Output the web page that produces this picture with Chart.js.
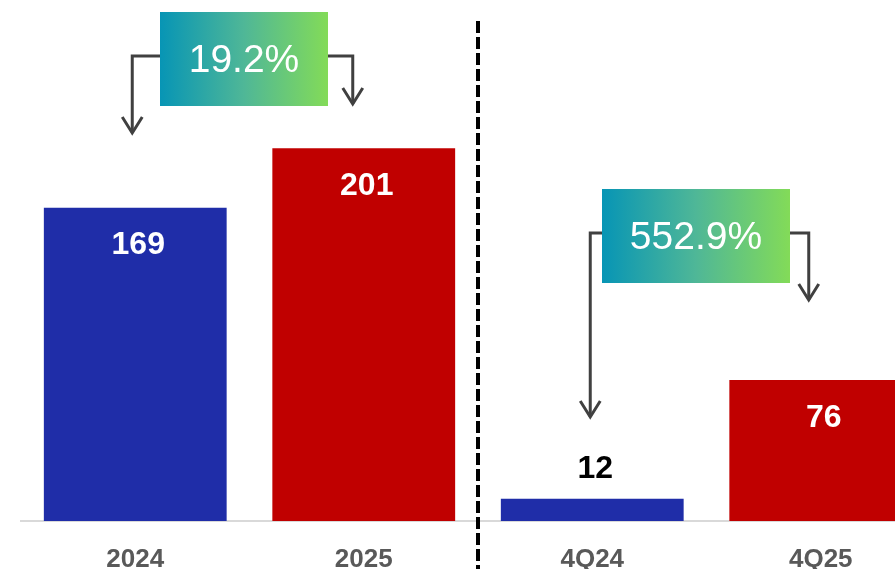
<!DOCTYPE html>
<html lang="en">
<head>
  <meta charset="UTF-8">
  <title>Annual and Quarterly Comparison</title>
  <script src="https://cdn.jsdelivr.net/npm/chart.js"></script>
  <style>
    body {
      margin: 0;
      background: #ffffff;
      overflow: hidden;
      width: 895px;
      height: 569px;
    }
    /* canvas is a bit wider than the page so the last bar runs off the edge */
    #barChart {
      display: block;
    }
  </style>
</head>
<body>
  <canvas id="barChart" width="940" height="569"></canvas>

  <script>
    // chart data
    const categories = ['2024', '2025', '4Q24', '4Q25'];
    const values = [169, 201, 12, 76];
    const changeLabels = ['19.2%', '552.9%'];

    const BLUE = '#1f2da8';
    const RED = '#c00000';
    const barColors = [BLUE, RED, BLUE, RED];

    // callout boxes: which bars they link, box geometry and arrow tips
    const callouts = [
      { text: changeLabels[0], from: 0, to: 1, box: { x: 160, y: 12, w: 168, h: 94 },
        leftDx: -3, rightDx: -11, leftTip: 133, rightTip: 104 },
      { text: changeLabels[1], from: 2, to: 3, box: { x: 602, y: 189, w: 188, h: 94 },
        leftDx: -2, rightDx: -12, leftTip: 417, rightTip: 300 }
    ];

    // value labels: white inside tall bars, black above short ones
    const valueLabels = {
      id: 'valueLabels',
      afterDatasetsDraw(chart) {
        const { ctx } = chart;
        const meta = chart.getDatasetMeta(0);
        ctx.save();
        ctx.font = 'bold 32px "Liberation Sans", Arial, sans-serif';
        ctx.textAlign = 'center';
        ctx.textBaseline = 'middle';
        meta.data.forEach((bar, i) => {
          const h = bar.base - bar.y;
          if (h > 60) {
            ctx.fillStyle = '#ffffff';
            ctx.fillText(values[i], bar.x + 3, bar.y + 38);
          } else {
            ctx.fillStyle = '#000000';
            ctx.fillText(values[i], bar.x + 3, bar.y - 30);
          }
        });
        ctx.restore();
      }
    };

    // dashed separator between the annual and quarterly groups
    const separator = {
      id: 'separator',
      afterDraw(chart) {
        const { ctx } = chart;
        const x = chart.scales.x;
        const sx = (x.getPixelForValue(1) + x.getPixelForValue(2)) / 2;
        ctx.save();
        ctx.strokeStyle = '#000000';
        ctx.lineWidth = 4;
        ctx.setLineDash([12, 4]);
        ctx.beginPath();
        ctx.moveTo(sx, 21);
        ctx.lineTo(sx, chart.height);
        ctx.stroke();
        ctx.restore();
      }
    };

    function arrowDown(ctx, x, tip) {
      ctx.beginPath();
      ctx.moveTo(x - 10, tip - 16);
      ctx.lineTo(x, tip);
      ctx.lineTo(x + 10, tip - 16);
      ctx.stroke();
    }

    // growth callouts with gradient boxes and elbow arrows
    const growthCallouts = {
      id: 'growthCallouts',
      afterDraw(chart) {
        const { ctx } = chart;
        const meta = chart.getDatasetMeta(0);
        callouts.forEach(c => {
          const b = c.box;
          const midY = b.y + b.h / 2 - 3;
          const lx = meta.data[c.from].x + c.leftDx;
          const rx = meta.data[c.to].x + c.rightDx;

          ctx.save();
          ctx.strokeStyle = '#404040';
          ctx.lineWidth = 3;
          ctx.lineJoin = 'miter';
          ctx.beginPath();
          ctx.moveTo(b.x, midY);
          ctx.lineTo(lx, midY);
          ctx.lineTo(lx, c.leftTip);
          ctx.stroke();
          arrowDown(ctx, lx, c.leftTip);

          ctx.beginPath();
          ctx.moveTo(b.x + b.w, midY);
          ctx.lineTo(rx, midY);
          ctx.lineTo(rx, c.rightTip);
          ctx.stroke();
          arrowDown(ctx, rx, c.rightTip);

          const grad = ctx.createLinearGradient(b.x, 0, b.x + b.w, 0);
          grad.addColorStop(0, '#0795b5');
          grad.addColorStop(0.5, '#4fb797');
          grad.addColorStop(1, '#83db58');
          ctx.fillStyle = grad;
          ctx.fillRect(b.x, b.y, b.w, b.h);

          ctx.fillStyle = '#ffffff';
          ctx.font = '39px "Liberation Sans", Arial, sans-serif';
          ctx.textAlign = 'center';
          ctx.textBaseline = 'middle';
          ctx.fillText(c.text, b.x + b.w / 2, b.y + b.h / 2 + 2);
          ctx.restore();
        });
      }
    };

    const ctx = document.getElementById('barChart').getContext('2d');
    new Chart(ctx, {
      type: 'bar',
      data: {
        labels: categories,
        datasets: [{
          data: values,
          backgroundColor: barColors,
          borderWidth: 0,
          barPercentage: 0.8,
          categoryPercentage: 1.0
        }]
      },
      options: {
        responsive: false,
        animation: false,
        layout: {
          padding: { left: 21, right: 5, top: 0, bottom: 0 }
        },
        plugins: {
          legend: { display: false },
          tooltip: { enabled: false }
        },
        scales: {
          x: {
            grid: { drawOnChartArea: false, drawTicks: false },
            border: { display: true, color: '#d9d9d9', width: 2 },
            ticks: {
              color: '#595959',
              padding: 23,
              font: { family: '"Liberation Sans", Arial, sans-serif', size: 26, weight: 'bold' }
            },
            afterFit(scale) {
              scale.height = 48;
            }
          },
          y: {
            display: false,
            min: 0,
            max: 281
          }
        }
      },
      plugins: [valueLabels, separator, growthCallouts]
    });
  </script>
</body>
</html>
